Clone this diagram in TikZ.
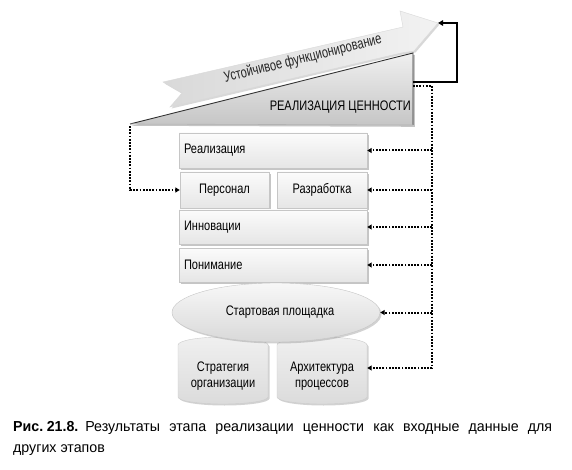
\documentclass[tikz,border=0pt]{standalone}
\usepackage{fontspec}
\setmainfont{Liberation Sans}[FakeStretch=0.8]
\newfontfamily\capfamily{Liberation Sans}[FakeStretch=0.98]
\newfontfamily\arrfamily{Liberation Sans}[FakeStretch=0.74]
\usetikzlibrary{shapes.geometric,shadows,arrows.meta,calc}
\newcommand\lblfont{\fontsize{13.8}{15.5}\selectfont}
\newcommand\capfont{\capfamily\fontsize{14.5}{16}\selectfont}
\newcommand\arrfont{\arrfamily\fontsize{15}{17}\selectfont}
\begin{document}
\begin{tikzpicture}[x=1pt,y=-1pt,
  box/.style={rectangle, draw=gray!45, top color=gray!3, bottom color=gray!20,
    drop shadow={shadow xshift=1.6pt, shadow yshift=-1.6pt, opacity=0.45, fill=gray},
    inner sep=0pt, font=\lblfont},
  lbox/.style={box, text width=178pt, inner xsep=5pt, align=left, minimum width=188pt},
  cbox/.style={box, align=center},
  dotplain/.style={line width=2pt, dash pattern=on 1.8pt off 1.4pt},
  dotline/.style={dotplain, -{Triangle[length=4.5pt,width=5pt]}},
  solidconn/.style={line width=1.6pt, -{Triangle[length=5pt,width=5.5pt]}},
  cyl/.style={draw=gray!40, top color=gray!12, bottom color=gray!28,
    drop shadow={shadow xshift=1.5pt, shadow yshift=-1.5pt, opacity=0.35, fill=gray}},
]
\useasboundingbox (0,0) rectangle (572,470);
\fill[white] (0,0) rectangle (572,470);

% --- rising arrow ---
\coordinate (aTU) at (163,82);
\coordinate (aNotch) at (182,93);
\coordinate (aTL) at (170,107);
\coordinate (aBL) at (401,53);
\coordinate (aHL) at (414,51);
\coordinate (atip) at (438,23);
\coordinate (aHU) at (400,11);
\coordinate (aBU) at (403,27);
\path[left color=gray!30, right color=gray!10, draw=gray!30,
  drop shadow={shadow xshift=1.5pt, shadow yshift=-1.5pt, opacity=0.3, fill=gray}]
  (aTU) -- (aBU) -- (aHU) -- (atip) -- (aHL) -- (aBL) -- (aTL) -- (aNotch) -- cycle;
\node[font=\arrfont, rotate=14, text=black!85] (stable) at (303,59) {Устойчивое функционирование};

% --- triangle ---
\coordinate (tL) at (130,124);
\coordinate (tTR) at (413,53);
\coordinate (tBR) at (413,125);
\path[top color=gray!12, bottom color=gray!45,
  drop shadow={shadow xshift=1.8pt, shadow yshift=-1.8pt, opacity=0.45, fill=gray}]
  (tL) -- (tTR) -- (tBR) -- cycle;
\draw[gray!40!black, line width=0.9pt] (tL) -- (tTR) -- (tBR);
\draw[gray!60, line width=0.6pt] (tBR) -- (tL);
\node[font=\lblfont, anchor=east, inner sep=0pt] (trilbl) at (411,107) {РЕАЛИЗАЦИЯ ЦЕННОСТИ};

% --- boxes ---
\node[lbox, minimum height=35pt] (real) at (273,150.5) {Реализация};
\node[cbox, minimum width=89pt, minimum height=36pt] (pers) at (224.5,190) {Персонал};
\node[cbox, minimum width=90pt, minimum height=36pt] (dev) at (322,190) {Разработка};
\node[lbox, minimum height=34pt] (innov) at (273,227) {Инновации};
\node[lbox, minimum height=34pt] (under) at (273,265) {Понимание};

% --- cylinders ---
\path[cyl] (178,345) -- (178,397) arc[start angle=180, end angle=360, x radius=45pt, y radius=7pt]
  -- (268,345) arc[start angle=0, end angle=180, x radius=45pt, y radius=8pt] -- cycle;
\path[cyl] (277,345) -- (277,397) arc[start angle=180, end angle=360, x radius=45pt, y radius=7pt]
  -- (367,345) arc[start angle=0, end angle=180, x radius=45pt, y radius=8pt] -- cycle;
\node[font=\lblfont, align=center, minimum width=90pt, minimum height=52pt, inner sep=0pt] (strat) at (223,376) {Стратегия\\организации};
\node[font=\lblfont, align=center, minimum width=90pt, minimum height=52pt, inner sep=0pt] (arch) at (322,376) {Архитектура\\процессов};

% --- ellipse ---
\node[ellipse, draw=gray!45, top color=gray!6, bottom color=gray!30,
  minimum width=208pt, minimum height=59pt, inner sep=0pt, font=\lblfont,
  drop shadow={shadow xshift=1.5pt, shadow yshift=-1.5pt, opacity=0.35, fill=gray}]
  (start) at (276,312.5) {\hspace*{8pt}Стартовая площадка};

% --- connectors ---
\coordinate (tout1) at (413,82);
\coordinate (tout2) at (413,86);
\coordinate (loop) at (457,82);
\coordinate (bus) at (432,86);
\coordinate (archin) at ([yshift=8pt]arch.east);
\draw[solidconn] (tout1) -- (loop) |- (atip);
\draw[dotline] (tout2) -- (bus) |- (archin);
\foreach \n in {real,dev,innov,under,start}
  \draw[dotline] (bus |- \n.east) -- (\n.east);
\draw[dotline] ([yshift=-2pt]tL) |- (pers.west);

% --- caption ---
\node[anchor=base west, inner sep=0pt, font=\capfont] (cap1) at (13,431)
  {\makebox[539pt][s]{\textbf{Рис.\hspace{3.5pt}21.8.}\hspace{7pt}Результаты этапа реализации ценности как входные данные для}};
\node[anchor=base west, inner sep=0pt, font=\capfont] (cap2) at (13,452.5) {других этапов};
\end{tikzpicture}
\end{document}
